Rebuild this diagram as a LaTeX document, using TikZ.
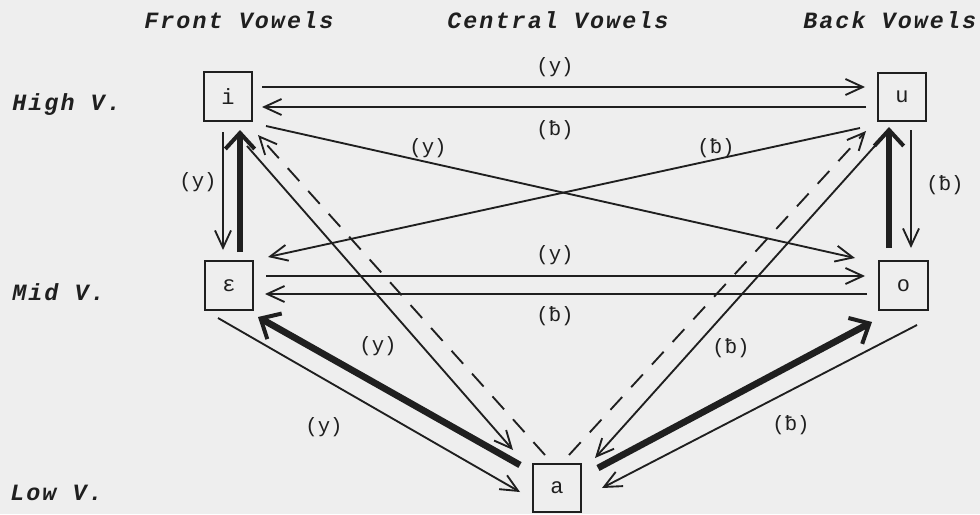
\documentclass[tikz,border=0pt]{standalone}
\usepackage{fontspec}
\setmonofont{Liberation Mono}
\newfontfamily\headfont{Liberation Mono}[LetterSpace=9]
\usetikzlibrary{arrows.meta}
\definecolor{paper}{gray}{0.935}
\definecolor{ink}{gray}{0.12}
\begin{document}
\begin{tikzpicture}[x=0.75pt,y=-0.75pt,
  vbox/.style={draw=ink, line width=1.4pt, minimum width=36.5pt, minimum height=36.5pt,
    inner sep=0pt, text=ink, font=\ttfamily\fontsize{16.5}{16.5}\selectfont},
  lab/.style={inner sep=0pt, text=ink, font=\ttfamily\fontsize{15.5}{15.5}\selectfont},
  head/.style={inner sep=0pt, anchor=base west, text=ink,
    font=\headfont\bfseries\itshape\fontsize{17.5}{17.5}\selectfont},
  thinarr/.style={draw=ink, line width=1.4pt, -{Straight Barb[length=13pt,width=12pt]}},
  thickarr/.style={draw=ink, line width=5pt, -{Straight Barb[length=12pt,width=22pt,line width=3pt]}},
  dasharr/.style={thinarr, dash pattern=on 13pt off 10pt}]
\fill[paper] (0,0) rectangle (980,514);
\useasboundingbox (0,0) rectangle (980,514);

% column and row headings
\node[head] (hfront) at (144,28) {Front Vowels};
\node[head] (hcent) at (447,28) {Central Vowels};
\node[head] (hback) at (803,28) {Back Vowels};
\node[head] (hhigh) at (12,110) {High V.};
\node[head] (hmid) at (12,300) {Mid V.};
\node[head] (hlow) at (10,500) {Low V.};

% vowels
\node[vbox] (i) at (228,96.5) {i};
\node[vbox] (u) at (902,97) {u};
\node[vbox] (e) at (229,285.5) {ε};
\node[vbox] (o) at (903.5,285.5) {o};
\node[vbox] (a) at (557,488) {a};

% horizontal pairs
\draw[thinarr] ([shift={(34,-9.5)}]i.center) -- ([shift={(-37,-10)}]u.center);
\draw[thinarr] ([shift={(-36,10)}]u.center) -- ([shift={(34,10.5)}]i.center);
\draw[thinarr] ([shift={(37,-9.5)}]e.center) -- ([shift={(-38.5,-9.5)}]o.center);
\draw[thinarr] ([shift={(-36.5,8.5)}]o.center) -- ([shift={(36,8.5)}]e.center);

% vertical pairs
\draw[thinarr] ([shift={(-5,35.5)}]i.center) -- ([shift={(-6,-35.5)}]e.center);
\draw[thickarr] ([shift={(11,-33.5)}]e.center) -- ([shift={(12,33.5)}]i.center);
\draw[thinarr] ([shift={(9,33)}]u.center) -- ([shift={(7.5,-37.5)}]o.center);
\draw[thickarr] ([shift={(-14.5,-37.5)}]o.center) -- ([shift={(-13,30)}]u.center);

% crossing diagonals
\draw[thinarr] ([shift={(38,29.5)}]i.center) -- ([shift={(-48.5,-27.5)}]o.center);
\draw[thinarr] ([shift={(-42,31)}]u.center) -- ([shift={(39,-28.5)}]e.center);

% links to the low vowel
\draw[thinarr] ([shift={(19,49.5)}]i.center) -- ([shift={(-44,-38)}]a.center);
\draw[dasharr] ([shift={(-12,-33)}]a.center) -- ([shift={(30,38.5)}]i.center);
\draw[thickarr] ([shift={(-37,-23)}]a.center) -- ([shift={(29,31.5)}]e.center);
\draw[thinarr] ([shift={(-11,32.5)}]e.center) -- ([shift={(-37,4)}]a.center);
\draw[dasharr] ([shift={(12,-33)}]a.center) -- ([shift={(-36,34)}]u.center);
\draw[thinarr] ([shift={(-20,41)}]u.center) -- ([shift={(38,-30)}]a.center);
\draw[thickarr] ([shift={(41,-20)}]a.center) -- ([shift={(-31.5,36.5)}]o.center);
\draw[thinarr] ([shift={(13.5,39.5)}]o.center) -- ([shift={(45,0)}]a.center);

% labels
\node[lab] (l1) at (555,67) {(y)};
\node[lab] (l2) at (555,130) {(ƀ)};
\node[lab] (l3) at (198,182) {(y)};
\node[lab] (l4) at (428,148) {(y)};
\node[lab] (l5) at (716,148) {(ƀ)};
\node[lab] (l6) at (945,185) {(ƀ)};
\node[lab] (l7) at (555,255) {(y)};
\node[lab] (l8) at (555,316) {(ƀ)};
\node[lab] (l9) at (378,346) {(y)};
\node[lab] (l10) at (324,427) {(y)};
\node[lab] (l11) at (731,348) {(ƀ)};
\node[lab] (l12) at (791,425) {(ƀ)};
\end{tikzpicture}
\end{document}
